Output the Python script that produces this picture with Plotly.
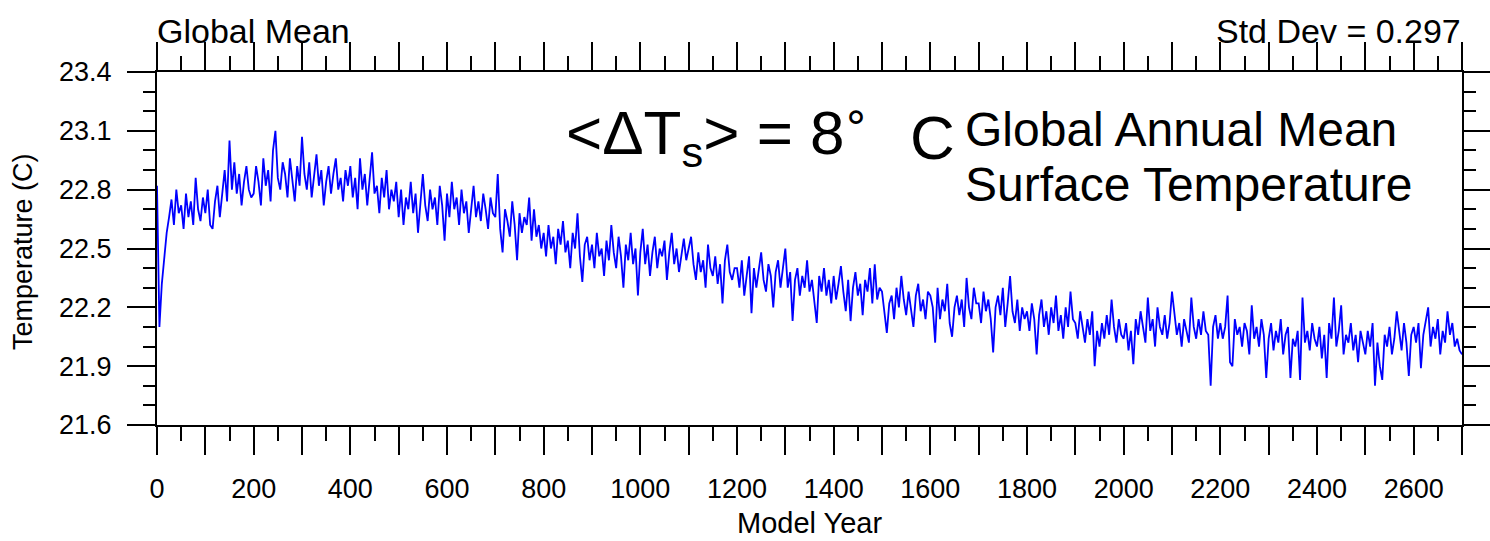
import plotly.graph_objects as go

# ---- data: global annual mean surface temperature (C), sampled every 5 model years ----
temp_0000_0495 = [
    22.82, 22.10, 22.32, 22.47, 22.58, 22.66, 22.75, 22.62, 22.80, 22.68, 22.72, 22.60, 22.78, 22.66, 22.74, 22.62, 22.86, 22.70, 22.64, 22.76,
    22.68, 22.80, 22.62, 22.60, 22.74, 22.82, 22.66, 22.78, 22.90, 22.74, 23.05, 22.80, 22.94, 22.78, 22.88, 22.72, 22.84, 22.92, 22.80, 22.76,
    22.78, 22.92, 22.84, 22.72, 22.96, 22.82, 22.90, 22.74, 23.00, 23.10, 22.86, 22.80, 22.94, 22.88, 22.76, 22.96, 22.84, 22.74, 22.92, 22.82,
    23.07, 22.88, 22.80, 22.94, 22.76, 22.86, 22.98, 22.82, 22.90, 22.72, 22.84, 22.92, 22.78, 22.88, 22.96, 22.80, 22.86, 22.74, 22.90, 22.82,
    22.92, 22.76, 22.86, 22.70, 22.96, 22.80, 22.88, 22.72, 22.84, 22.99, 22.78, 22.82, 22.68, 22.86, 22.76, 22.90, 22.70, 22.80, 22.74, 22.84,
]
temp_0500_0995 = [
    22.66, 22.80, 22.62, 22.76, 22.70, 22.84, 22.68, 22.78, 22.58, 22.74, 22.88, 22.72, 22.64, 22.80, 22.70, 22.76, 22.62, 22.82, 22.72, 22.54,
    22.78, 22.66, 22.84, 22.70, 22.76, 22.62, 22.80, 22.68, 22.74, 22.58, 22.72, 22.82, 22.66, 22.74, 22.64, 22.78, 22.70, 22.60, 22.76, 22.68,
    22.66, 22.88, 22.60, 22.48, 22.70, 22.64, 22.56, 22.74, 22.62, 22.44, 22.68, 22.58, 22.66, 22.62, 22.76, 22.54, 22.70, 22.56, 22.62, 22.50,
    22.58, 22.46, 22.62, 22.50, 22.56, 22.42, 22.60, 22.52, 22.64, 22.48, 22.54, 22.40, 22.58, 22.50, 22.68, 22.46, 22.33, 22.52, 22.56, 22.44,
    22.52, 22.40, 22.58, 22.46, 22.50, 22.36, 22.54, 22.44, 22.62, 22.48, 22.40, 22.56, 22.46, 22.30, 22.52, 22.44, 22.58, 22.42, 22.50, 22.26,
]
temp_1000_1495 = [
    22.48, 22.60, 22.42, 22.52, 22.36, 22.48, 22.56, 22.40, 22.50, 22.46, 22.54, 22.34, 22.48, 22.58, 22.42, 22.50, 22.38, 22.46, 22.55, 22.44,
    22.50, 22.56, 22.42, 22.34, 22.48, 22.38, 22.44, 22.30, 22.52, 22.40, 22.36, 22.46, 22.32, 22.42, 22.22, 22.44, 22.52, 22.38, 22.34, 22.40,
    22.40, 22.30, 22.44, 22.26, 22.36, 22.46, 22.17, 22.40, 22.30, 22.38, 22.48, 22.34, 22.28, 22.42, 22.36, 22.20, 22.38, 22.44, 22.30, 22.40,
    22.50, 22.30, 22.38, 22.13, 22.34, 22.40, 22.26, 22.36, 22.30, 22.44, 22.28, 22.34, 22.24, 22.12, 22.36, 22.28, 22.40, 22.26, 22.34, 22.22,
    22.36, 22.24, 22.32, 22.41, 22.28, 22.18, 22.34, 22.13, 22.30, 22.38, 22.26, 22.32, 22.16, 22.34, 22.28, 22.40, 22.22, 22.42, 22.24, 22.30,
]
temp_1500_1995 = [
    22.28, 22.18, 22.07, 22.22, 22.26, 22.14, 22.30, 22.20, 22.36, 22.24, 22.16, 22.28, 22.20, 22.10, 22.26, 22.32, 22.18, 22.24, 22.14, 22.28,
    22.26, 22.20, 22.02, 22.30, 22.14, 22.24, 22.18, 22.32, 22.12, 22.05, 22.20, 22.26, 22.16, 22.24, 22.10, 22.35, 22.20, 22.14, 22.30, 22.22,
    22.22, 22.12, 22.28, 22.18, 22.24, 22.14, 21.97, 22.20, 22.26, 22.16, 22.30, 22.10, 22.22, 22.36, 22.18, 22.12, 22.24, 22.08, 22.20, 22.14,
    22.18, 22.08, 22.22, 22.14, 21.96, 22.16, 22.24, 22.10, 22.18, 22.06, 22.20, 22.12, 22.26, 22.08, 22.16, 22.04, 22.20, 22.10, 22.28, 22.14,
    22.12, 22.04, 22.18, 22.10, 22.02, 22.14, 22.06, 22.18, 21.90, 22.08, 22.00, 22.12, 22.04, 22.16, 22.06, 22.24, 22.10, 22.02, 22.14, 22.06,
]
temp_2000_2495 = [
    22.04, 22.12, 21.98, 22.08, 21.91, 22.14, 22.06, 22.18, 22.10, 22.02, 22.25, 22.08, 22.14, 22.00, 22.20, 22.10, 22.06, 22.16, 22.04, 22.12,
    22.28, 22.16, 22.06, 22.12, 22.00, 22.14, 22.08, 22.02, 22.25, 22.10, 22.04, 22.14, 22.06, 22.18, 22.08, 22.06, 21.80, 22.10, 22.16, 22.04,
    22.12, 22.04, 22.10, 22.26, 21.92, 21.90, 22.14, 22.06, 22.10, 22.00, 22.12, 22.08, 21.96, 22.21, 22.04, 22.10, 22.00, 22.14, 22.06, 21.84,
    22.04, 22.12, 21.98, 22.08, 22.02, 22.14, 21.96, 22.06, 22.10, 21.84, 22.04, 22.00, 22.08, 21.83, 22.25, 22.02, 22.08, 21.98, 22.12, 22.04,
    22.00, 22.10, 21.94, 22.06, 21.84, 22.12, 22.04, 22.25, 22.00, 22.08, 22.21, 21.96, 22.06, 22.02, 22.12, 21.98, 22.06, 21.92, 22.08, 22.02,
]
temp_2500_2700 = [
    21.96, 22.08, 22.00, 22.12, 21.80, 22.02, 21.90, 21.83, 22.06, 22.00, 22.10, 21.96, 22.04, 22.18, 22.08, 21.98, 22.12, 22.02, 21.85, 22.06,
    22.10, 22.02, 22.12, 21.89, 22.06, 22.14, 22.20, 22.00, 22.10, 22.04, 22.14, 21.96, 22.08, 22.02, 22.18, 22.06, 22.12, 22.00, 22.04, 21.98,
    21.96,
]
year_step = 5

x_major_ticks = list(range(0, 2701, 100))
x_tick_labels = [str(v) if v % 200 == 0 else " " for v in x_major_ticks]
y_major_ticks = [21.6, 21.9, 22.2, 22.5, 22.8, 23.1, 23.4]
y_tick_labels = ["21.6", "21.9", "22.2", "22.5", "22.8", "23.1", "23.4"]

left_string = "Global Mean"
right_string = "Std Dev = 0.297"
x_title = "Model Year"
y_title = "Temperature (C)"

temps = (temp_0000_0495 + temp_0500_0995 + temp_1000_1495 +
         temp_1500_1995 + temp_2000_2495 + temp_2500_2700)
years = [i * year_step for i in range(len(temps))]

# ---- layout geometry (pixels) ----
W, H = 1490, 541
L, R, T, B = 157, 1462, 72, 425


def px(xp):
    return (xp - L) / (R - L)


def py(yp):
    return (B - yp) / (B - T)


FONT = "Liberation Sans, Arial, Helvetica, sans-serif"

fig = go.Figure(go.Scatter(x=years, y=temps, mode="lines",
                           line=dict(color="#0000ff", width=1.8),
                           hoverinfo="skip"))

axis_common = dict(
    showline=True, linecolor="black", linewidth=2, mirror="ticks",
    ticks="outside", ticklen=28, tickwidth=2, tickcolor="black",
    showgrid=False, zeroline=False, automargin=False,
    tickfont=dict(family=FONT, size=27, color="black"),
)

fig.update_xaxes(range=[0, 2700], tickmode="array", tickvals=x_major_ticks,
                 ticktext=x_tick_labels, ticklabelstandoff=11,
                 minor=dict(tick0=0, dtick=50, ticks="outside", ticklen=14,
                            tickwidth=1.5, tickcolor="black", showgrid=False),
                 **axis_common)
fig.update_yaxes(range=[21.6, 23.4], tickmode="array", tickvals=y_major_ticks,
                 ticktext=y_tick_labels, ticklabelstandoff=10,
                 minor=dict(tick0=21.6, dtick=0.1, ticks="outside", ticklen=12,
                            tickwidth=1.5, tickcolor="black", showgrid=False),
                 **axis_common)

ann = []
ann.append(dict(text=left_string, x=px(155), y=py(31), xanchor="left", yanchor="middle",
                font=dict(family=FONT, size=34, color="black")))
ann.append(dict(text=right_string, x=px(1463), y=py(31), xanchor="right", yanchor="middle",
                font=dict(family=FONT, size=34, color="black")))
ann.append(dict(text=x_title, x=px(809), y=py(523), xanchor="center", yanchor="middle",
                font=dict(family=FONT, size=29, color="black")))
ann.append(dict(text=y_title, x=px(23), y=py(252), xanchor="center", yanchor="middle",
                textangle=-90, font=dict(family=FONT, size=27, color="black")))
ann.append(dict(text="&lt;ΔT<sub>s</sub>&gt; = 8", x=px(564), y=py(137),
                xanchor="left", yanchor="middle",
                font=dict(family=FONT, size=62, color="black")))
ann.append(dict(text="°", x=px(843), y=py(127), xanchor="left", yanchor="middle",
                font=dict(family="DejaVu Sans, sans-serif", size=44, color="black")))
ann.append(dict(text="C", x=px(908), y=py(137), xanchor="left", yanchor="middle",
                font=dict(family=FONT, size=62, color="black")))
ann.append(dict(text="Global Annual Mean", x=px(963), y=py(129), xanchor="left", yanchor="middle",
                font=dict(family=FONT, size=48, color="black")))
ann.append(dict(text="Surface Temperature", x=px(963), y=py(184), xanchor="left", yanchor="middle",
                font=dict(family=FONT, size=48, color="black")))
for a in ann:
    a.update(xref="paper", yref="paper", showarrow=False)

fig.update_layout(width=W, height=H,
                  margin=dict(l=L, r=W - R, t=T, b=H - B, pad=0),
                  paper_bgcolor="white", plot_bgcolor="white",
                  showlegend=False, annotations=ann,
                  font=dict(family=FONT, color="black"))

fig.write_html("out.html", config={"displayModeBar": False},
               post_script="document.body.style.margin='0px';document.body.style.overflow='hidden';")
